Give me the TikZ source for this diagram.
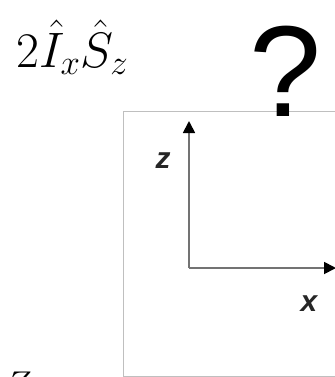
\RequirePackage{fix-cm}
\documentclass[tikz,border=0pt]{standalone}
\usepackage{fontspec}
\usetikzlibrary{arrows.meta}
\newfontfamily\qfont{Liberation Sans}
\tikzset{
  axis/.style={draw=black!55, line width=1.8bp, -{Triangle[length=12bp,width=12bp,black]}},
  axlabel/.style={inner sep=0, font=\qfont\itshape\bfseries\fontsize{30}{30}\selectfont, text=black!85},
  frame/.style={draw=black!25, line width=1bp}
}
\begin{document}
\begin{tikzpicture}[x=1bp,y=-1bp]
\useasboundingbox (0,0) rectangle (335,377);
\draw[frame] (340,111) -- (123,111) -- (123,376) -- (340,376);
\node[anchor=base west, inner sep=0, font=\fontsize{50}{50}\selectfont] (title) at (16,67) {$2\hat{I}_x\hat{S}_z$};
\node[anchor=base west, inner sep=0, font=\qfont\fontsize{130}{130}\selectfont] (q) at (249,116) {?};
\coordinate (o) at (189,268);
\coordinate (zt) at (189,121);
\coordinate (xt) at (336,268);
\draw[axis] (o) -- (zt);
\draw[axis] (o) -- (xt);
\node[axlabel] (zl) at (163,161) {z};
\node[axlabel] (xl) at (309,304) {x};
\node[anchor=base west, inner sep=0, font=\fontsize{36}{36}\selectfont] (zf) at (5,396) {$Z$};
\end{tikzpicture}
\end{document}
